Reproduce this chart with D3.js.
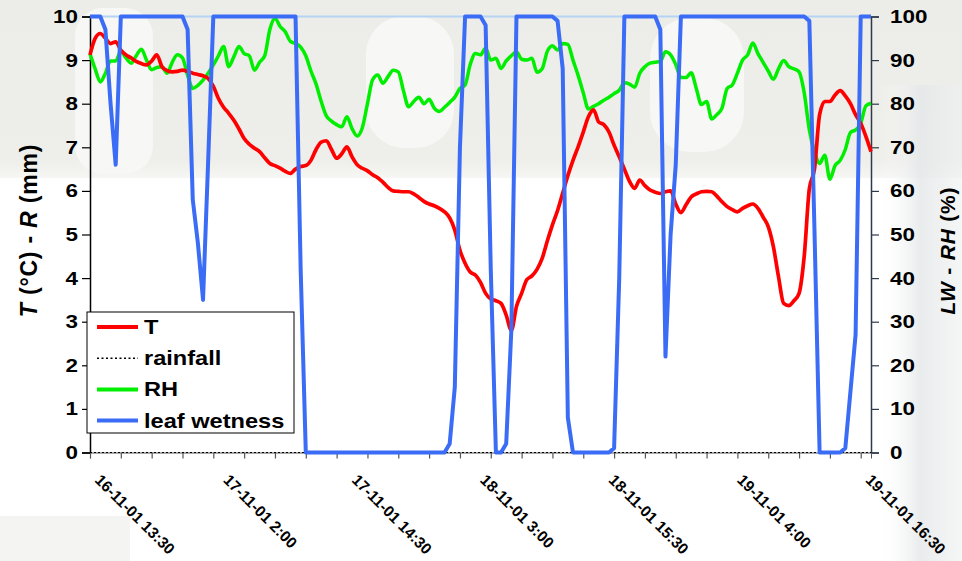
<!DOCTYPE html>
<html>
<head>
<meta charset="utf-8">
<script src="https://cdn.jsdelivr.net/npm/d3@7/dist/d3.min.js"></script>
<style>
  html, body { margin: 0; padding: 0; background: #ffffff; }
  svg { display: block; }
  text { font-family: "Liberation Sans", Arial, Helvetica, sans-serif; font-weight: bold; fill: #000; }
</style>
</head>
<body>
<svg id="chart" width="962" height="561"></svg>
<script>
// Half-hourly readings, 16-11-01 13:30 to 19-11-01 17:30 (index 0..152)
const timeLabels = ["16-11-01 13:30", "17-11-01 2:00", "17-11-01 14:30", "18-11-01 3:00",
                    "18-11-01 15:30", "19-11-01 4:00", "19-11-01 16:30"];
const labelIndex = [0, 25, 50, 75, 100, 125, 150];
const leftTicks = [0, 1, 2, 3, 4, 5, 6, 7, 8, 9, 10];
const rightTicks = [0, 10, 20, 30, 40, 50, 60, 70, 80, 90, 100];

// air temperature, °C
const temperature = [
  9.12, 9.50, 9.61, 9.50, 9.38, 9.42, 9.23, 9.12, 9.05, 8.97,
  8.92, 8.89, 8.98, 9.12, 8.85, 8.76, 8.73, 8.74, 8.77, 8.74,
  8.70, 8.67, 8.64, 8.58, 8.40, 8.12, 7.92, 7.78, 7.62, 7.42,
  7.20, 7.07, 6.98, 6.90, 6.76, 6.63, 6.58, 6.52, 6.45, 6.40,
  6.50, 6.56, 6.58, 6.70, 6.95, 7.12, 7.15, 6.95, 6.75, 6.85,
  7.01, 6.78, 6.60, 6.52, 6.46, 6.37, 6.30, 6.20, 6.08, 6.00,
  5.99, 5.98, 5.98, 5.93, 5.85, 5.76, 5.70, 5.66, 5.60, 5.52,
  5.38, 5.10, 4.64, 4.34, 4.14, 4.07, 3.90, 3.65, 3.52, 3.48,
  3.42, 3.15, 2.80, 3.35, 3.65, 3.96, 4.05, 4.20, 4.45, 4.85,
  5.22, 5.55, 5.95, 6.35, 6.70, 7.01, 7.35, 7.70, 7.86, 7.58,
  7.52, 7.35, 7.05, 6.78, 6.50, 6.22, 6.06, 6.25, 6.12, 6.02,
  5.97, 5.94, 5.98, 6.00, 5.70, 5.50, 5.68, 5.86, 5.93, 5.98,
  5.99, 5.98, 5.88, 5.75, 5.64, 5.57, 5.52, 5.60, 5.66, 5.70,
  5.60, 5.40, 5.18, 4.72, 4.03, 3.42, 3.37, 3.48, 3.65, 4.50,
  6.05, 6.50, 7.75, 8.05, 8.05, 8.20, 8.30, 8.18, 8.00, 7.75,
  7.55, 7.25, 6.90
];

// rainfall, mm
const rainfall = [
  0, 0, 0, 0, 0, 0, 0, 0, 0, 0, 0, 0, 0, 0, 0, 0, 0, 0, 0, 0,
  0, 0, 0, 0, 0, 0, 0, 0, 0, 0, 0, 0, 0, 0, 0, 0, 0, 0, 0, 0,
  0, 0, 0, 0, 0, 0, 0, 0, 0, 0, 0, 0, 0, 0, 0, 0, 0, 0, 0, 0,
  0, 0, 0, 0, 0, 0, 0, 0, 0, 0, 0, 0, 0, 0, 0, 0, 0, 0, 0, 0,
  0, 0, 0, 0, 0, 0, 0, 0, 0, 0, 0, 0, 0, 0, 0, 0, 0, 0, 0, 0,
  0, 0, 0, 0, 0, 0, 0, 0, 0, 0, 0, 0, 0, 0, 0, 0, 0, 0, 0, 0,
  0, 0, 0, 0, 0, 0, 0, 0, 0, 0, 0, 0, 0, 0, 0, 0, 0, 0, 0, 0,
  0, 0, 0, 0, 0, 0, 0, 0, 0, 0, 0, 0, 0
];

// relative humidity, %
const relHumidity = [
  91.5, 88.0, 85.0, 87.0, 89.8, 89.8, 92.0, 90.5, 89.3, 91.0,
  92.5, 90.0, 87.8, 88.3, 88.5, 87.0, 89.5, 91.2, 90.5, 86.5,
  83.5, 84.2, 85.4, 87.0, 88.9, 91.0, 93.1, 88.5, 90.8, 93.1,
  91.5, 91.0, 87.7, 89.5, 91.0, 97.0, 99.6, 97.7, 96.5, 94.3,
  93.8, 93.0, 91.0, 87.5, 84.5, 80.5, 77.2, 76.0, 75.2, 74.7,
  77.0, 74.3, 72.6, 74.5, 80.0, 85.5, 86.6, 84.7, 86.2, 87.7,
  87.3, 83.0, 79.3, 80.5, 81.5, 80.0, 81.0, 79.0, 78.2, 79.2,
  80.3, 81.5, 83.5, 84.3, 89.0, 91.5, 91.2, 92.7, 90.0, 90.4,
  88.1, 89.8, 91.0, 91.9, 90.2, 90.0, 90.4, 87.2, 88.0, 92.0,
  93.3, 92.3, 93.8, 93.6, 90.0, 86.5, 82.5, 78.8, 79.4, 80.0,
  80.8, 81.5, 82.3, 83.1, 84.8, 84.5, 83.8, 87.0, 88.5, 89.3,
  89.5, 89.7, 91.9, 91.2, 89.0, 86.0, 86.0, 87.1, 83.5, 79.8,
  80.5, 76.5, 77.5, 79.0, 83.5, 84.3, 87.0, 90.0, 91.2, 93.9,
  91.5, 89.5, 87.5, 85.6, 88.0, 89.9, 88.5, 88.0, 87.3, 82.5,
  74.0, 69.0, 66.3, 68.2, 62.7, 65.8, 67.0, 69.5, 73.4, 74.0,
  75.5, 79.5, 80.1
];

// leaf wetness, %
const leafWetness = [
  100, 100, 100, 97, 80, 66, 100, 100, 100, 100,
  100, 100, 100, 100, 100, 100, 100, 100, 100, 97,
  58, 48, 35, 67, 100, 100, 100, 100, 100, 100,
  100, 100, 100, 100, 100, 100, 100, 100, 100, 100,
  100, 42, 0, 0, 0, 0, 0, 0, 0, 0,
  0, 0, 0, 0, 0, 0, 0, 0, 0, 0,
  0, 0, 0, 0, 0, 0, 0, 0, 0, 0,
  2, 15, 70, 100, 100, 100, 100, 98, 42, 0,
  0, 2, 28, 100, 100, 100, 100, 100, 100, 100,
  100, 99, 88, 8, 0, 0, 0, 0, 0, 0,
  0, 0, 1, 40, 100, 100, 100, 100, 100, 100,
  100, 97, 22, 50, 66, 100, 100, 100, 100, 100,
  100, 100, 100, 100, 100, 100, 100, 100, 100, 100,
  100, 100, 100, 100, 100, 100, 100, 100, 100, 100,
  99, 51, 0, 0, 0, 0, 0, 1, 14, 27,
  100, 100, 100
];

const legendItems = [
  { label: "T", color: "#ff0000", dash: null, width: 4 },
  { label: "rainfall", color: "#000000", dash: "2,2.5", width: 1.5 },
  { label: "RH", color: "#00ee00", dash: null, width: 4 },
  { label: "leaf wetness", color: "#3b6cf6", dash: null, width: 4 }
];

const svg = d3.select("#chart");
const W = 962, H = 561;
const plot = { left: 90, right: 871, top: 16.5, bottom: 452.5 };

// ---- faint slide backdrop ----
const bg = svg.append("g");
const defs = svg.append("defs");
const grad = defs.append("linearGradient").attr("id", "sideFade")
  .attr("x1", "0").attr("y1", "0").attr("x2", "1").attr("y2", "0");
grad.append("stop").attr("offset", "0").attr("stop-color", "#ffffff").attr("stop-opacity", 0);
grad.append("stop").attr("offset", "0.5").attr("stop-color", "#e5e8e9").attr("stop-opacity", 0.85);
grad.append("stop").attr("offset", "1").attr("stop-color", "#eef0f0").attr("stop-opacity", 0.6);
const bandFade = defs.append("linearGradient").attr("id", "bandFade")
  .attr("x1", "0").attr("y1", "0").attr("x2", "0").attr("y2", "1");
bandFade.append("stop").attr("offset", "0").attr("stop-color", "#ececE8");
bandFade.append("stop").attr("offset", "0.9").attr("stop-color", "#eeeeea");
bandFade.append("stop").attr("offset", "1").attr("stop-color", "#f6f6f4");
bg.append("rect").attr("x", 0).attr("y", 0).attr("width", W).attr("height", 178).attr("fill", "url(#bandFade)");
bg.append("rect").attr("x", 75).attr("y", 8).attr("width", 78).attr("height", 166).attr("rx", 28).attr("fill", "#f7f7f5");
bg.append("rect").attr("x", 366).attr("y", 16).attr("width", 88).attr("height", 132).attr("rx", 38).attr("fill", "#f7f7f5");
bg.append("rect").attr("x", 650).attr("y", 18).attr("width", 94).attr("height", 134).attr("rx", 40).attr("fill", "#f7f7f5");
bg.append("rect").attr("x", 878).attr("y", 85).attr("width", 84).attr("height", 476).attr("fill", "url(#sideFade)");
bg.append("rect").attr("x", 0).attr("y", 516).attr("width", 130).attr("height", 45).attr("fill", "#f4f4f2");

// ---- scales ----
const x = d3.scaleLinear().domain([0, 152]).range([plot.left, plot.right]);
const yL = d3.scaleLinear().domain([0, 10]).range([plot.bottom, plot.top]);
const yR = d3.scaleLinear().domain([0, 100]).range([plot.bottom, plot.top]);

// top frame line of the plot area
svg.append("line")
  .attr("x1", plot.left).attr("x2", plot.right)
  .attr("y1", plot.top).attr("y2", plot.top)
  .attr("stroke", "#b5d3f3").attr("stroke-width", 2);

// ---- axes ----
const gLeft = svg.append("g").attr("transform", `translate(${plot.left},0)`)
  .call(d3.axisLeft(yL).tickValues(leftTicks).tickSize(8).tickFormat(d3.format("d")));
const gRight = svg.append("g").attr("transform", `translate(${plot.right},0)`)
  .call(d3.axisRight(yR).tickValues(rightTicks).tickSize(8).tickFormat(d3.format("d")));
const gBottom = svg.append("g").attr("transform", `translate(0,${plot.bottom})`)
  .call(d3.axisBottom(x).tickValues(d3.range(0, 151, 6)).tickSize(6).tickFormat(""));

gLeft.select(".domain").attr("stroke", "#000").attr("stroke-width", 1.5);
gLeft.selectAll(".tick line").attr("stroke", "#000").attr("stroke-width", 1.2);
gRight.select(".domain").attr("stroke", "#2e3a4a").attr("stroke-width", 1.5);
gRight.selectAll(".tick line").attr("stroke", "#2e3a4a").attr("stroke-width", 1.2);
gBottom.select(".domain").attr("stroke", "#555").attr("stroke-width", 1);
gBottom.selectAll(".tick line").attr("stroke", "#555").attr("stroke-width", 1.2);
[gLeft, gRight].forEach(g => g.selectAll(".tick text")
  .style("font-family", '"Liberation Sans", Arial, sans-serif')
  .style("font-weight", "bold").style("font-size", "19px").attr("fill", "#000")
  .attr("x", 0));
gLeft.selectAll(".tick text").attr("transform", "translate(-12,0) scale(1.18,1)");
gRight.selectAll(".tick text").attr("transform", "translate(19,0) scale(1.18,1)");

// date labels, rotated 45°
svg.append("g").selectAll("text").data(labelIndex).join("text")
  .attr("transform", d => `translate(${x(d) + 4},${481}) rotate(45)`)
  .style("font-size", "15.5px")
  .text((d, i) => timeLabels[i]);

// ---- series ----
const lineL = d3.line().x((d, i) => x(i)).y(d => yL(d)).curve(d3.curveMonotoneX);
const lineR = d3.line().x((d, i) => x(i)).y(d => yR(d)).curve(d3.curveMonotoneX);
const lineWet = d3.line().x((d, i) => x(i)).y(d => yR(d));

svg.append("path").datum(relHumidity).attr("d", lineR)
  .attr("fill", "none").attr("stroke", "#00ee00").attr("stroke-width", 3.5)
  .attr("stroke-linejoin", "round");
svg.append("path").datum(temperature).attr("d", lineL)
  .attr("fill", "none").attr("stroke", "#ff0000").attr("stroke-width", 3.7)
  .attr("stroke-linejoin", "round");
svg.append("path").datum(rainfall).attr("d", lineL)
  .attr("fill", "none").attr("stroke", "#000").attr("stroke-width", 1.2)
  .attr("stroke-dasharray", "2,2");
svg.append("path").datum(leafWetness).attr("d", lineWet)
  .attr("fill", "none").attr("stroke", "#3b6cf6").attr("stroke-width", 4)
  .attr("stroke-linejoin", "round");

// ---- axis titles ----
const tL = svg.append("text")
  .attr("transform", `translate(37,${(plot.top + plot.bottom) / 2 - 4}) rotate(-90)`)
  .attr("text-anchor", "middle").style("font-size", "23px").style("letter-spacing", "0.8px");
tL.append("tspan").style("font-style", "italic").text("T");
tL.append("tspan").text(" (°C) - ");
tL.append("tspan").style("font-style", "italic").text("R");
tL.append("tspan").text(" (mm)");

const tR = svg.append("text")
  .attr("transform", `translate(955,${(plot.top + plot.bottom) / 2 + 16}) rotate(-90)`)
  .attr("text-anchor", "middle").style("font-size", "21px").style("letter-spacing", "0.8px");
tR.append("tspan").style("font-style", "italic").text("LW");
tR.append("tspan").text(" - ");
tR.append("tspan").style("font-style", "italic").text("RH");
tR.append("tspan").text(" (%)");

// ---- legend ----
const lg = svg.append("g").attr("transform", "translate(87,312)");
lg.append("rect").attr("width", 207).attr("height", 121)
  .attr("fill", "#fff").attr("stroke", "#000").attr("stroke-width", 1);
const rows = lg.selectAll("g.item").data(legendItems).join("g")
  .attr("class", "item").attr("transform", (d, i) => `translate(0,${15 + i * 31.2})`);
rows.append("line").attr("x1", 10).attr("x2", 51).attr("y1", 0).attr("y2", 0)
  .attr("stroke", d => d.color).attr("stroke-width", d => d.width)
  .attr("stroke-dasharray", d => d.dash);
rows.append("text").attr("transform", "translate(57,7) scale(1.18,1)")
  .style("font-size", "20px").text(d => d.label);
</script>
</body>
</html>
